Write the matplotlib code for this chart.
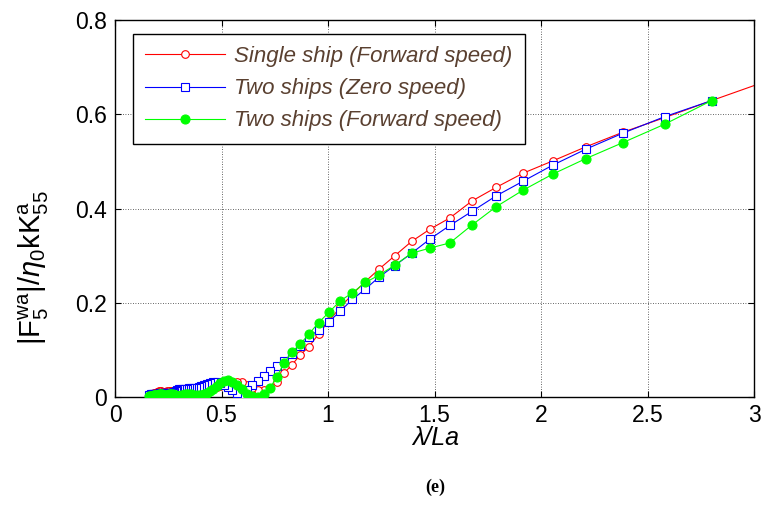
import matplotlib
matplotlib.use("Agg")
import matplotlib.pyplot as plt
from matplotlib.ticker import FixedLocator, FixedFormatter

plt.rcParams['font.family'] = ['Liberation Sans', 'DejaVu Sans']
plt.rcParams['mathtext.fontset'] = 'custom'
plt.rcParams['mathtext.rm'] = 'Liberation Sans'
plt.rcParams['mathtext.it'] = 'Liberation Sans:italic'

# Wavelength ratio lambda/La (descending, uniform frequency steps)
wave_ratio = [2.801, 2.581, 2.385, 2.211, 2.055, 1.916, 1.790, 1.676, 1.572, 1.478,
              1.392, 1.314, 1.241, 1.175, 1.114, 1.057, 1.005, 0.956, 0.911, 0.869,
              0.830, 0.794, 0.759, 0.727, 0.697, 0.669, 0.643, 0.618, 0.594, 0.572,
              0.551, 0.531, 0.512, 0.494, 0.477, 0.461, 0.446, 0.431, 0.418, 0.404,
              0.392, 0.380, 0.368, 0.357, 0.347, 0.337, 0.327, 0.318, 0.310, 0.301,
              0.293, 0.285, 0.278, 0.271, 0.264, 0.257, 0.251, 0.244, 0.239, 0.233,
              0.227, 0.222, 0.217, 0.212, 0.207, 0.202, 0.198, 0.194, 0.189, 0.185,
              0.181, 0.178, 0.174, 0.170, 0.167, 0.164, 0.160]

single_fwd = [0.629, 0.593, 0.562, 0.531, 0.501, 0.475, 0.445, 0.416, 0.380, 0.356,
              0.330, 0.300, 0.272, 0.245, 0.218, 0.190, 0.162, 0.134, 0.107, 0.089,
              0.068, 0.051, 0.031, 0.020, 0.015, 0.015, 0.020, 0.026, 0.031, 0.032,
              0.030, 0.028, 0.026, 0.024, 0.022, 0.020, 0.018, 0.017, 0.015, 0.014,
              0.013, 0.012, 0.012, 0.011, 0.011, 0.010, 0.010, 0.010, 0.011, 0.012,
              0.012, 0.012, 0.011, 0.011, 0.012, 0.013, 0.013, 0.012, 0.011, 0.010,
              0.010, 0.011, 0.012, 0.013, 0.012, 0.011, 0.010, 0.009, 0.008, 0.008,
              0.007, 0.007, 0.006, 0.006, 0.006, 0.005, 0.005]

two_zero = [0.629, 0.595, 0.560, 0.526, 0.492, 0.458, 0.427, 0.394, 0.364, 0.335,
            0.305, 0.279, 0.255, 0.229, 0.207, 0.182, 0.160, 0.142, 0.128, 0.108,
            0.092, 0.077, 0.066, 0.055, 0.045, 0.035, 0.025, 0.014, 0.004, 0.008,
            0.015, 0.021, 0.026, 0.030, 0.031, 0.031, 0.030, 0.028, 0.026, 0.023,
            0.021, 0.020, 0.020, 0.019, 0.019, 0.018, 0.018, 0.017, 0.017, 0.016,
            0.015, 0.012, 0.010, 0.009, 0.009, 0.009, 0.009, 0.009, 0.008, 0.008,
            0.008, 0.008, 0.008, 0.008, 0.007, 0.007, 0.007, 0.007, 0.006, 0.006,
            0.006, 0.006, 0.006, 0.006, 0.005, 0.005, 0.005]

two_fwd = [0.629, 0.579, 0.540, 0.506, 0.473, 0.439, 0.404, 0.365, 0.327, 0.316,
           0.305, 0.280, 0.259, 0.243, 0.221, 0.204, 0.180, 0.158, 0.134, 0.112,
           0.095, 0.073, 0.042, 0.019, 0.006, 0.001, 0.002, 0.007, 0.017, 0.026,
           0.032, 0.036, 0.034, 0.029, 0.023, 0.017, 0.012, 0.009, 0.007, 0.005,
           0.004, 0.004, 0.005, 0.006, 0.007, 0.007, 0.006, 0.005, 0.004, 0.003,
           0.003, 0.004, 0.005, 0.006, 0.007, 0.007, 0.006, 0.005, 0.004, 0.004,
           0.005, 0.006, 0.007, 0.007, 0.006, 0.005, 0.004, 0.004, 0.004, 0.004,
           0.004, 0.003, 0.003, 0.003, 0.003, 0.003, 0.003]

# single-ship curve continues past the right edge of the axes
single_tail_x = [3.051]
single_tail_y = [0.669]

x_ticks = [0, 0.5, 1, 1.5, 2, 2.5, 3]
x_tick_labels = ["0", "0.5", "1", "1.5", "2", "2.5", "3"]
y_ticks = [0, 0.2, 0.4, 0.6, 0.8]
y_tick_labels = ["0", "0.2", "0.4", "0.6", "0.8"]

legend_labels = ["Single ship (Forward speed)",
                 "Two ships (Zero speed)",
                 "Two ships (Forward speed)"]

fig = plt.figure(figsize=(7.62, 5.08), dpi=100)
ax = fig.add_axes([0.151, 0.2185, 0.8385, 0.7421])

ax.plot(single_tail_x[::-1] + wave_ratio[:1], single_tail_y[::-1] + single_fwd[:1],
        color='#ff0000', lw=0.8, zorder=2)
ax.plot(wave_ratio, single_fwd, color='#ff0000', lw=0.8, marker='o', ms=5.5,
        mfc='white', mec='#ff0000', mew=0.8, label=legend_labels[0], zorder=3)
ax.plot(wave_ratio, two_zero, color='#0000ff', lw=0.8, marker='s', ms=6,
        mfc='white', mec='#0000ff', mew=0.8, label=legend_labels[1], zorder=4)
ax.plot(wave_ratio, two_fwd, color='#00ff00', lw=0.8, marker='o', ms=6.5,
        mfc='#00ff00', mec='#00ff00', mew=0.8, label=legend_labels[2], zorder=5)

ax.set_xlim(0, 3)
ax.set_ylim(0, 0.8)
ax.xaxis.set_major_locator(FixedLocator(x_ticks))
ax.xaxis.set_major_formatter(FixedFormatter(x_tick_labels))
ax.yaxis.set_major_locator(FixedLocator(y_ticks))
ax.yaxis.set_major_formatter(FixedFormatter(y_tick_labels))

ax.grid(True, color='#333333', linestyle=(0, (1, 2)), linewidth=0.6)
ax.set_axisbelow(True)
ax.tick_params(direction='in', length=4, width=0.8, top=True, right=True,
               labelsize=16.5, colors='black')
ax.tick_params(axis='x', pad=5)
ax.tick_params(axis='y', pad=6)
for s in ax.spines.values():
    s.set_linewidth(1.0)
    s.set_color('black')

ax.set_xlabel('λ/La', fontsize=18, style='italic')
ax.xaxis.set_label_coords(0.502, -0.108)
ax.xaxis.label.set_va('center')

ax.set_ylabel(r'$|\mathrm{F}_5^{\mathrm{wa}}|/\eta_0\mathrm{kK}^{\mathrm{a}}_{55}$',
              fontsize=21)
ax.yaxis.set_label_coords(-0.127, 0.342)
ax.yaxis.label.set_va('center')

leg = ax.legend(loc='upper left', bbox_to_anchor=(0.028, 0.963), borderaxespad=0,
                handlelength=3.6, handletextpad=0.4, labelspacing=0.5,
                borderpad=0.55, fancybox=False, framealpha=1, edgecolor='black',
                prop={'style': 'italic', 'size': 16})
leg.get_frame().set_linewidth(1.0)
for t in leg.get_texts():
    t.set_color('#5a4030')

fig.text(0.571, 0.041, '(e)', fontsize=13, fontweight='bold',
         family=['Liberation Serif', 'DejaVu Serif'], ha='center', va='center')

fig.savefig('out.png', dpi=100)
